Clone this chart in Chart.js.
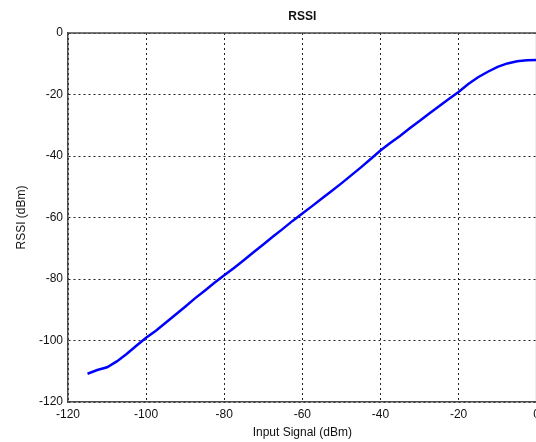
<!DOCTYPE html>
<html lang="en">
<head>
    <meta charset="UTF-8">
    <title>RSSI</title>
    <script src="https://cdn.jsdelivr.net/npm/chart.js"></script>
    <style>
        html, body { margin: 0; padding: 0; overflow: hidden; background: #fff; }
    </style>
</head>
<body>
    <canvas id="rssiChart" width="545" height="442"></canvas>

<script>
    // values
    const inputSignal = [-115, -112.5, -110, -107.5, -105, -102.5, -100, -97.5, -95, -92.5, -90, -87.5, -85, -82.5,
        -80, -77.5, -75, -72.5, -70, -67.5, -65, -62.5, -60, -57.5, -55, -52.5, -50, -47.5, -45, -42.5,
        -40, -37.5, -35, -32.5, -30, -27.5, -25, -22.5, -20, -17.5, -15, -12.5, -10, -7.5, -5, -2.5, 0];
    const rssi = [-110.8, -109.6, -108.7, -106.8, -104.4, -101.7, -99.1, -96.8, -94.2, -91.6, -89.0, -86.3, -83.8, -81.2,
        -78.8, -76.4, -73.9, -71.3, -68.8, -66.2, -63.7, -61.1, -58.7, -56.3, -53.8, -51.4, -48.9, -46.3, -43.7, -41.0,
        -38.2, -35.8, -33.5, -31.0, -28.6, -26.2, -23.8, -21.5, -19.2, -16.6, -14.4, -12.6, -11.0, -9.9, -9.2, -8.9, -8.8];
    const xTicks = [-120, -100, -80, -60, -40, -20, 0];
    const yTicks = [-120, -100, -80, -60, -40, -20, 0];

    const fontFam = '"Liberation Sans", Arial, sans-serif';

    // top/right frame like the matlab axes box
    const boxPlugin = {
        id: 'box',
        afterDraw(chart) {
            const a = chart.chartArea;
            const ctx = chart.ctx;
            ctx.save();
            ctx.strokeStyle = '#4a4a4a';
            ctx.lineWidth = 1.5;
            ctx.beginPath();
            ctx.moveTo(a.left, a.top);
            ctx.lineTo(a.right, a.top);
            ctx.lineTo(a.right, a.bottom);
            ctx.stroke();
            ctx.restore();
        }
    };

    const data = {
        datasets: [{
            label: 'RSSI',
            data: inputSignal.map((x, i) => ({ x: x, y: rssi[i] })),
            borderColor: '#0000ff',
            borderWidth: 2.5,
            pointRadius: 0,
            tension: 0,
            fill: false
        }]
    };

    const gridOpts = {
        color: '#222',
        lineWidth: 1,
        drawTicks: false
    };

    const config = {
        type: 'line',
        data: data,
        options: {
            responsive: false,
            animation: false,
            layout: { padding: { left: 0, right: 8, top: 0, bottom: 0 } },
            plugins: {
                legend: { display: false },
                tooltip: { enabled: false },
                title: {
                    display: true,
                    fullSize: false,
                    text: 'RSSI',
                    color: '#111',
                    font: { family: fontFam, size: 12, weight: 'bold', lineHeight: 1.2 },
                    padding: { top: 9, bottom: 9.6 }
                }
            },
            scales: {
                x: {
                    type: 'linear',
                    min: -120,
                    max: 0,
                    afterBuildTicks: (s) => { s.ticks = xTicks.map(v => ({ value: v })); },
                    afterFit: (s) => { s.height = 40; },
                    grid: gridOpts,
                    border: { display: true, color: '#4a4a4a', width: 1.5, dash: [2, 3] },
                    ticks: { color: '#111', padding: 5, maxRotation: 0, font: { family: fontFam, size: 12 } },
                    title: {
                        display: true,
                        text: 'Input Signal (dBm)',
                        color: '#111',
                        font: { family: fontFam, size: 12 },
                        padding: { top: 0, bottom: 2 }
                    }
                },
                y: {
                    type: 'linear',
                    min: -120,
                    max: 0,
                    afterBuildTicks: (s) => { s.ticks = yTicks.map(v => ({ value: v })); },
                    afterFit: (s) => { s.width = 68; },
                    grid: gridOpts,
                    border: { display: true, color: '#4a4a4a', width: 1.5, dash: [2, 3] },
                    ticks: { color: '#111', padding: 5, font: { family: fontFam, size: 12 } },
                    title: {
                        display: true,
                        text: 'RSSI (dBm)',
                        color: '#111',
                        font: { family: fontFam, size: 12 },
                        padding: { top: 14, bottom: 0 }
                    }
                }
            }
        },
        plugins: [boxPlugin]
    };

    const rssiChart = new Chart(document.getElementById('rssiChart'), config);
</script>
</body>
</html>
